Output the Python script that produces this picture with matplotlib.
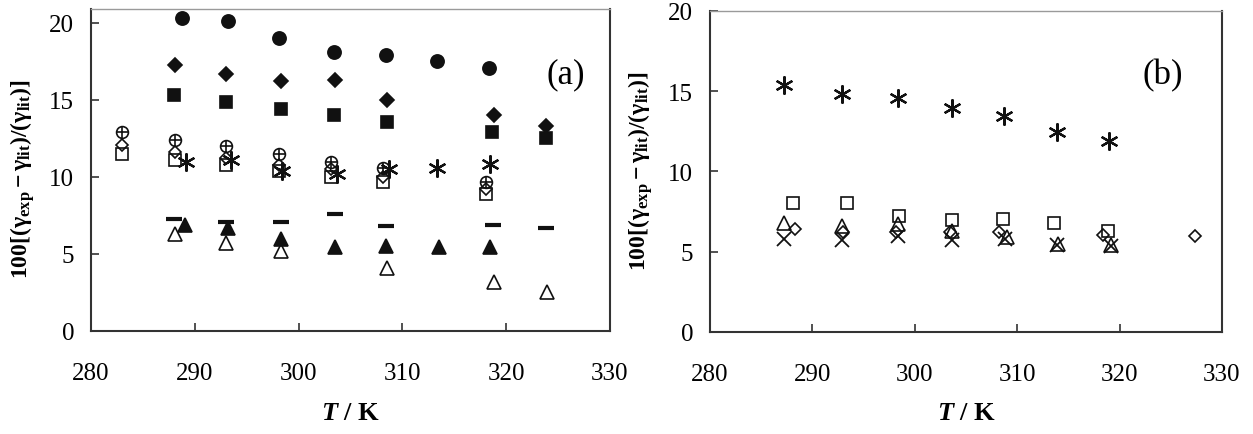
import matplotlib
matplotlib.use("Agg")
import matplotlib.pyplot as plt

plt.rcParams["font.family"] = ["Liberation Serif", "DejaVu Serif"]
plt.rcParams["mathtext.fontset"] = "custom"
plt.rcParams["mathtext.rm"] = "Liberation Serif"
plt.rcParams["mathtext.it"] = "Liberation Serif:italic"
plt.rcParams["mathtext.bf"] = "Liberation Serif:bold"
plt.rcParams["mathtext.bfit"] = "Liberation Serif:italic:bold"

# ---- panel (a) data ----
a_T_circle = [288.8, 293.2, 298.1, 303.4, 308.4, 313.3, 318.3]
a_circle = [20.3, 20.1, 19.0, 18.1, 17.9, 17.5, 17.1]

a_T_diamond_f = [288.1, 293.0, 298.3, 303.5, 308.5, 318.8, 323.8]
a_diamond_f = [17.3, 16.7, 16.2, 16.3, 15.0, 14.0, 13.3]

a_T_square_f = [288.0, 293.0, 298.3, 303.4, 308.5, 318.6, 323.8]
a_square_f = [15.3, 14.9, 14.4, 14.0, 13.6, 12.9, 12.5]

a_T_open = [283.0, 288.1, 293.0, 298.1, 303.1, 308.1, 318.1]
a_oplus = [12.9, 12.4, 12.0, 11.5, 11.0, 10.6, 9.7]
a_diamond_o = [12.1, 11.6, 11.2, 10.8, 10.5, 10.0, 9.2]
a_square_o = [11.5, 11.1, 10.8, 10.4, 10.0, 9.7, 8.9]

a_T_aster = [289.2, 293.5, 298.4, 303.7, 308.7, 313.3, 318.4]
a_aster = [10.95, 11.1, 10.4, 10.2, 10.5, 10.6, 10.85]

a_T_dash = [288.0, 293.0, 298.3, 303.5, 308.4, 318.7, 323.8]
a_dash = [7.3, 7.1, 7.1, 7.6, 6.8, 6.9, 6.7]

a_T_tri_f = [289.1, 293.2, 298.3, 303.5, 308.4, 313.5, 318.4]
a_tri_f = [6.9, 6.7, 6.0, 5.45, 5.55, 5.45, 5.45]

a_T_tri_o = [288.1, 293.0, 298.3, 308.5, 318.8, 323.9]
a_tri_o = [6.3, 5.7, 5.2, 4.1, 3.2, 2.5]

# ---- panel (b) data ----
b_T_aster = [287.2, 292.9, 298.4, 303.6, 308.7, 313.9, 319.0]
b_aster = [15.4, 14.8, 14.6, 13.95, 13.45, 12.45, 11.9]

b_T_square = [288.1, 293.4, 298.5, 303.6, 308.6, 313.6, 318.9]
b_square = [8.05, 8.05, 7.25, 7.0, 7.05, 6.8, 6.3]

b_T_diamond = [288.3, 293.0, 298.2, 303.4, 308.2, 318.4, 327.4]
b_diamond = [6.4, 6.2, 6.2, 6.25, 6.2, 6.05, 5.95]

b_T_tri = [287.2, 292.9, 298.4, 303.6, 309.0, 314.0, 319.2]
b_tri = [6.8, 6.6, 6.7, 6.3, 5.9, 5.5, 5.4]

b_T_x = [287.2, 292.9, 298.4, 303.6, 308.8, 313.9, 319.2]
b_x = [5.8, 5.7, 6.0, 5.75, 5.8, 5.4, 5.35]

INK = "#111111"
ASTER = (6, 2, 0)

fig = plt.figure(figsize=(12.53, 4.35), dpi=100)
ax_a = fig.add_axes([0.0726, 0.2368, 0.4142, 0.740])
ax_b = fig.add_axes([0.5666, 0.2345, 0.4086, 0.738])


def pts(ax, x, y, marker, size, filled, mew=1.2):
    ax.plot(x, y, linestyle="none", marker=marker, markersize=size,
            markerfacecolor=INK if filled else "none",
            markeredgecolor=INK, markeredgewidth=mew)


def style_axes(ax, ymax):
    ax.set_xlim(280, 330)
    ax.set_ylim(0, ymax)
    ax.set_xticks(range(280, 331, 10))
    ax.set_yticks(range(0, 21, 5))
    for side in ("left", "bottom", "right"):
        ax.spines[side].set_linewidth(1.5)
        ax.spines[side].set_color("#333333")
    ax.spines["top"].set_linewidth(1.0)
    ax.spines["top"].set_color("#9a9a9a")
    ax.tick_params(axis="both", direction="in", length=6, width=1.2,
                   color="#333333", labelsize=18)
    ax.tick_params(axis="x", pad=22)
    ax.tick_params(axis="y", pad=12)


# panel (a)
pts(ax_a, a_T_circle, a_circle, "o", 9.5, True)
pts(ax_a, a_T_diamond_f, a_diamond_f, "D", 7.0, True)
pts(ax_a, a_T_square_f, a_square_f, "s", 9.0, True)
pts(ax_a, a_T_open, a_square_o, "s", 8.5, False)
pts(ax_a, a_T_open, a_diamond_o, "D", 6.5, False)
pts(ax_a, a_T_open, a_oplus, "o", 8.5, False)
pts(ax_a, a_T_open, a_oplus, "+", 8.5, False)
pts(ax_a, a_T_aster, a_aster, ASTER, 13, False, mew=1.6)
pts(ax_a, a_T_dash, a_dash, "_", 12, True, mew=3)
pts(ax_a, a_T_tri_f, a_tri_f, "^", 10, True)
pts(ax_a, a_T_tri_o, a_tri_o, "^", 9.5, False)
style_axes(ax_a, 20.9)
ax_a.text(0.915, 0.80, "(a)", transform=ax_a.transAxes, fontsize=25,
          ha="center", va="center")

# panel (b)
pts(ax_b, b_T_aster, b_aster, ASTER, 13, False, mew=1.6)
pts(ax_b, b_T_square, b_square, "s", 8.5, False)
pts(ax_b, b_T_diamond, b_diamond, "D", 6.5, False)
pts(ax_b, b_T_tri, b_tri, "^", 9.5, False)
pts(ax_b, b_T_x, b_x, "x", 9.5, False, mew=1.3)
style_axes(ax_b, 20)
ax_b.text(0.885, 0.80, "(b)", transform=ax_b.transAxes, fontsize=25,
          ha="center", va="center")

ylab = r"$\mathbf{100[(\gamma_{exp}-\gamma_{lit})/(\gamma_{lit})]}$"
fig.text(0.018, 0.588, ylab, rotation=90, ha="center", va="center", fontsize=17)
fig.text(0.511, 0.605, ylab, rotation=90, ha="center", va="center", fontsize=17)

xlab = r"$\mathbfit{T}\ \mathbf{/\ K}$"
fig.text(0.2797, 0.048, xlab, ha="center", va="center", fontsize=19)
fig.text(0.7715, 0.048, xlab, ha="center", va="center", fontsize=19)

fig.savefig("out.png", dpi=100)
